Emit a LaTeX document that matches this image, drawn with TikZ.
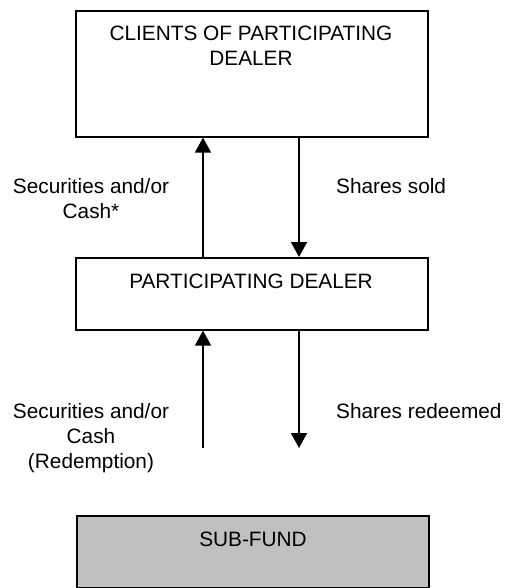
\documentclass[tikz,border=0pt]{standalone}
\usepackage{fontspec}
\setmainfont{Liberation Sans}
\usetikzlibrary{arrows.meta}
\begin{document}
\begin{tikzpicture}[x=1pt,y=-1pt,
  box/.style={draw=black,line width=1.6pt,anchor=north west,inner sep=0pt},
  txt/.style={font=\fontsize{20.8}{25}\selectfont,align=center,inner sep=0pt,anchor=base},
  lbl/.style={font=\fontsize{20.8}{25}\selectfont,align=center,inner sep=0pt,anchor=base},
  flow/.style={line width=1.6pt,-{Triangle[length=15pt,width=16pt]}}]
\useasboundingbox (0,0) rectangle (507,588);
\node[box,minimum width=352pt,minimum height=126pt] (top) at (75,10) {};
\node[box,minimum width=352pt,minimum height=72pt] (mid) at (75,257) {};
\node[box,fill={rgb,255:red,192;green,192;blue,192},minimum width=352pt,minimum height=72pt] (fund) at (76,515) {};
\node[txt] (toptxt) at (251,66) {CLIENTS OF PARTICIPATING\\DEALER};
\node[txt] (midtxt) at (251,288) {PARTICIPATING DEALER};
\node[txt] (fundtxt) at (253,546) {SUB-FUND};
\coordinate (lowL) at (203,448);
\coordinate (lowR) at (299,448);
\draw[flow] (mid.north -| lowL) -- (top.south -| lowL);
\draw[flow] (top.south -| lowR) -- (mid.north -| lowR);
\draw[flow] (lowL) -- (mid.south -| lowL);
\draw[flow] (mid.south -| lowR) -- (lowR);
\node[lbl] (l1) at (91,218) {Securities and/or\\Cash*};
\node[lbl,anchor=base west] (l2) at (336,193) {Shares sold};
\node[lbl] (l3) at (91,468) {Securities and/or\\Cash\\(Redemption)};
\node[lbl,anchor=base west] (l4) at (336,418) {Shares redeemed};
\end{tikzpicture}
\end{document}
